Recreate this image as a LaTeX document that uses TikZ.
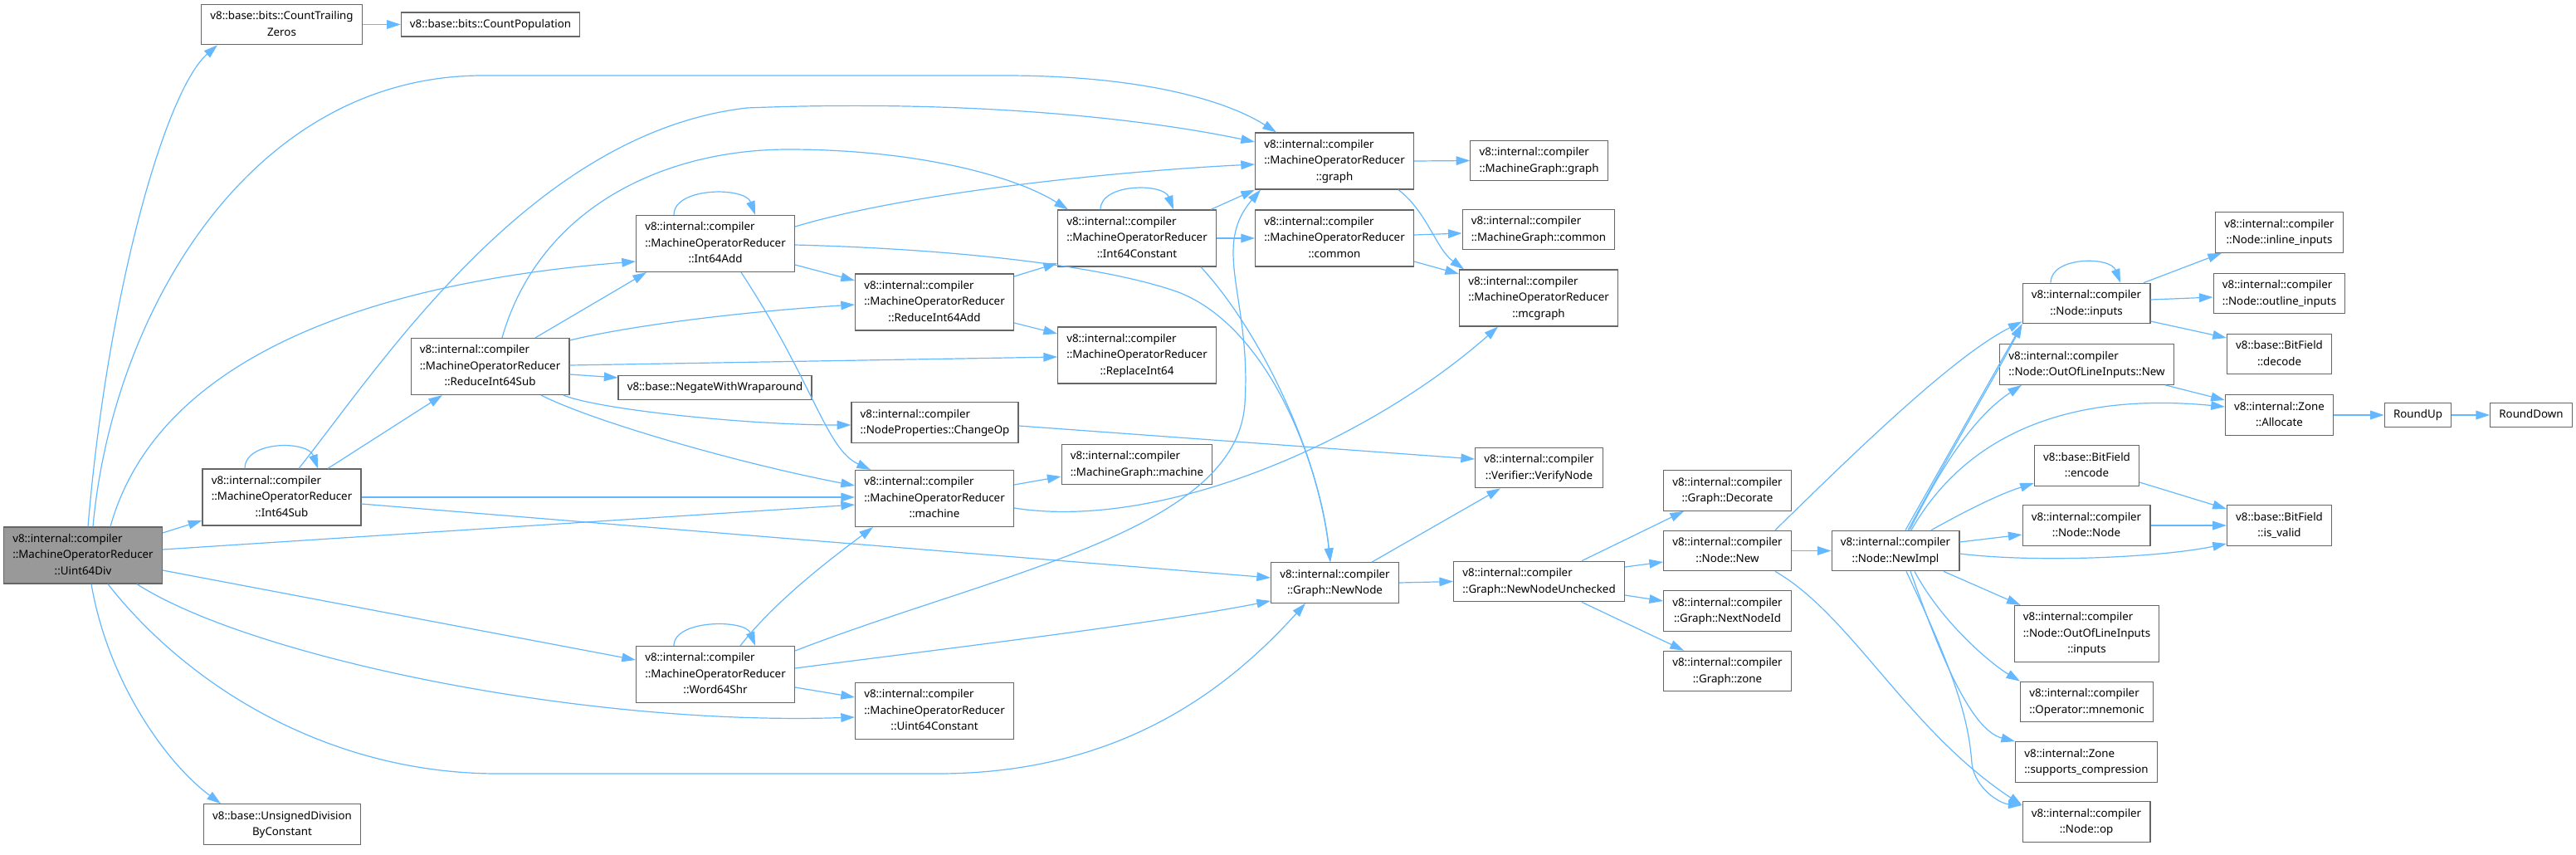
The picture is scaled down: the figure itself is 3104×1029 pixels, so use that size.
\documentclass[tikz,border=0pt]{standalone}
\usepackage{fontspec}
\setmainfont{Noto Sans}
\usetikzlibrary{arrows.meta,calc}
\definecolor{callblue}{HTML}{63B8FF}
\definecolor{boxgray}{HTML}{666666}
\definecolor{rootgray}{HTML}{999999}
\newcommand{\fnlabel}[2]{\begin{tabular}{@{}c@{}}\multicolumn{1}{@{}l@{}}{#1}#2\end{tabular}}

\begin{document}
\begin{tikzpicture}[x=0.75pt, y=0.75pt,
	fn/.style={draw=boxgray, line width=0.9pt, fill=white, inner xsep=8pt, inner ysep=3.6pt, font=\fontsize{10}{14.6}\selectfont},
	root/.style={fill=rootgray},
	call/.style={draw=callblue, line width=0.9pt, -{Triangle[length=12.5pt,width=8pt]}}]
	\useasboundingbox (0,0) rectangle (3104,-1029);
	\node[fn, root] (div) at (100,-669) {\fnlabel{v8::internal::compiler}{\\::MachineOperatorReducer\\::Uint64Div}};
	\node[fn] (ctz) at (339.5,-29.5) {\fnlabel{v8::base::bits::CountTrailing}{\\Zeros}};
	\node[fn] (popcnt) at (591,-29.5) {\fnlabel{v8::base::bits::CountPopulation}{}};
	\node[fn] (sub) at (339.5,-599) {\fnlabel{v8::internal::compiler}{\\::MachineOperatorReducer\\::Int64Sub}};
	\node[fn] (udiv) at (340,-993) {\fnlabel{v8::base::UnsignedDivision}{\\ByConstant}};
	\node[fn] (rsub) at (590.5,-441.5) {\fnlabel{v8::internal::compiler}{\\::MachineOperatorReducer\\::ReduceInt64Sub}};
	\node[fn] (add) at (862,-293.5) {\fnlabel{v8::internal::compiler}{\\::MachineOperatorReducer\\::Int64Add}};
	\node[fn] (shr) at (862,-812.5) {\fnlabel{v8::internal::compiler}{\\::MachineOperatorReducer\\::Word64Shr}};
	\node[fn] (negwrap) at (861.5,-467) {\fnlabel{v8::base::NegateWithWraparound}{}};
	\node[fn] (radd) at (1126,-364) {\fnlabel{v8::internal::compiler}{\\::MachineOperatorReducer\\::ReduceInt64Add}};
	\node[fn] (changeop) at (1126.5,-509) {\fnlabel{v8::internal::compiler}{\\::NodeProperties::ChangeOp}};
	\node[fn] (mach) at (1126,-600.5) {\fnlabel{v8::internal::compiler}{\\::MachineOperatorReducer\\::machine}};
	\node[fn] (u64const) at (1126,-856.5) {\fnlabel{v8::internal::compiler}{\\::MachineOperatorReducer\\::Uint64Constant}};
	\node[fn] (i64const) at (1370,-287) {\fnlabel{v8::internal::compiler}{\\::MachineOperatorReducer\\::Int64Constant}};
	\node[fn] (repl) at (1370,-428) {\fnlabel{v8::internal::compiler}{\\::MachineOperatorReducer\\::ReplaceInt64}};
	\node[fn] (mgmach) at (1370,-559.5) {\fnlabel{v8::internal::compiler}{\\::MachineGraph::machine}};
	\node[fn] (graph) at (1608,-194) {\fnlabel{v8::internal::compiler}{\\::MachineOperatorReducer\\::graph}};
	\node[fn] (common) at (1608,-287) {\fnlabel{v8::internal::compiler}{\\::MachineOperatorReducer\\::common}};
	\node[fn] (newnode) at (1608.5,-702) {\fnlabel{v8::internal::compiler}{\\::Graph::NewNode}};
	\node[fn] (mggraph) at (1854.5,-193.5) {\fnlabel{v8::internal::compiler}{\\::MachineGraph::graph}};
	\node[fn] (mgcommon) at (1854,-276.5) {\fnlabel{v8::internal::compiler}{\\::MachineGraph::common}};
	\node[fn] (mcgraph) at (1854,-359) {\fnlabel{v8::internal::compiler}{\\::MachineOperatorReducer\\::mcgraph}};
	\node[fn] (verify) at (1854.5,-563.5) {\fnlabel{v8::internal::compiler}{\\::Verifier::VerifyNode}};
	\node[fn] (unchecked) at (1854.5,-700.5) {\fnlabel{v8::internal::compiler}{\\::Graph::NewNodeUnchecked}};
	\node[fn] (decorate) at (2081.5,-591) {\fnlabel{v8::internal::compiler}{\\::Graph::Decorate}};
	\node[fn] (nodenew) at (2081.5,-663.5) {\fnlabel{v8::internal::compiler}{\\::Node::New}};
	\node[fn] (nextid) at (2081.5,-736) {\fnlabel{v8::internal::compiler}{\\::Graph::NextNodeId}};
	\node[fn] (gzone) at (2081.5,-808.5) {\fnlabel{v8::internal::compiler}{\\::Graph::zone}};
	\node[fn] (newimpl) at (2284,-663.5) {\fnlabel{v8::internal::compiler}{\\::Node::NewImpl}};
	\node[fn] (inputs) at (2514,-365.5) {\fnlabel{v8::internal::compiler}{\\::Node::inputs}};
	\node[fn] (oolnew) at (2514.5,-439) {\fnlabel{v8::internal::compiler}{\\::Node::OutOfLineInputs::New}};
	\node[fn] (encode) at (2514.5,-561) {\fnlabel{v8::base::BitField}{\\::encode}};
	\node[fn] (nodenode) at (2514,-633) {\fnlabel{v8::internal::compiler}{\\::Node::Node}};
	\node[fn] (oolinputs) at (2514.5,-763.5) {\fnlabel{v8::internal::compiler}{\\::Node::OutOfLineInputs\\::inputs}};
	\node[fn] (mnemonic) at (2514.5,-845.5) {\fnlabel{v8::internal::compiler}{\\::Operator::mnemonic}};
	\node[fn] (suppcomp) at (2514,-918) {\fnlabel{v8::internal::Zone}{\\::supports\_compression}};
	\node[fn] (nodeop) at (2514,-990) {\fnlabel{v8::internal::compiler}{\\::Node::op}};
	\node[fn] (inlinein) at (2746.5,-280) {\fnlabel{v8::internal::compiler}{\\::Node::inline\_inputs}};
	\node[fn] (outlinein) at (2746.5,-353.5) {\fnlabel{v8::internal::compiler}{\\::Node::outline\_inputs}};
	\node[fn] (decode) at (2746.5,-426.5) {\fnlabel{v8::base::BitField}{\\::decode}};
	\node[fn] (alloc) at (2746.5,-500) {\fnlabel{v8::internal::Zone}{\\::Allocate}};
	\node[fn] (isvalid) at (2746.5,-633) {\fnlabel{v8::base::BitField}{\\::is\_valid}};
	\node[fn] (roundup) at (2913.5,-500) {\fnlabel{RoundUp}{}};
	\node[fn] (rounddown) at (3050,-500) {\fnlabel{RoundDown}{}};
	% Uint64Div
	\draw[call] ($(div.north)+(6,0)$) .. controls +(24,285) and +(-62,-54) .. ($(ctz.south)+(-77.5,0)$);
	\draw[call] ($(div.north)+(12,0)$) .. controls +(23,255) and +(-282,0) .. (582,-91) -- (1211,-91) .. controls +(169,0) and +(-58,37) .. ($(graph.north)+(-70,0)$);
	\draw[call] ($(div.north)+(33,0)$) .. controls +(57,205) and +(-317,-25) .. ($(add.west)+(0,-21.5)$);
	\draw[call] ($(div.east)+(0,27)$) -- ($(sub.west)+(0,-28)$);
	\draw[call] ($(div.east)+(0,7)$) -- ($(mach.west)+(0,-7.5)$);
	\draw[call] ($(div.east)+(0,-18)$) -- ($(shr.west)+(0,17.5)$);
	\draw[call] ($(div.south)+(65,0)$) .. controls +(135,-87) and +(-331,-11) .. ($(u64const.west)+(0,-7.5)$);
	\draw[call] ($(div.south)+(30,0)$) .. controls +(100,-127) and +(-200,0) .. (600,-932) -- (1130,-932) .. controls +(220,0) and +(-93,-103) .. ($(newnode.south)+(-35.5,0)$);
	\draw[call] ($(div.south)+(10,0)$) .. controls +(20,-117) and +(-66,49) .. ($(udiv.north)+(-74,0)$);
	\draw[call] (ctz.east) -- (popcnt.west);
	% Int64Sub, ReduceInt64Sub
	\draw[call] ($(sub.north)+(-44.5,0)$) .. controls +(0,34) and +(-12,34) .. ($(sub.north)+(43.5,0)$);
	\draw[call] ($(sub.north)+(20.5,0)$) .. controls +(100,126) and +(-260,-30) .. (900,-130) .. controls +(250,10) and +(-148,31) .. ($(graph.west)+(0,23)$);
	\draw[call] ($(sub.north)+(55.5,0)$) -- ($(rsub.south)+(-57.5,0)$);
	\draw[call] (sub.east) -- ($(mach.west)+(0,1.5)$);
	\draw[call] ($(sub.east)+(0,-8)$) -- ($(newnode.west)+(0,6)$);
	\draw[call] ($(rsub.north)+(54.5,0)$) -- ($(add.south)+(-83,0)$);
	\draw[call] ($(rsub.north)+(14.5,0)$) .. controls +(45,157) and +(-150,0) .. (950,-180) .. controls +(150,0) and +(-67,42) .. ($(i64const.north)+(-83,0)$);
	\draw[call] ($(rsub.east)+(0,31.5)$) .. controls +(73,18) and +(-131,-8) .. ($(radd.west)+(0,-3)$);
	\draw[call] ($(rsub.east)+(0,1.5)$) -- ($(repl.west)+(0,-2)$);
	\draw[call] ($(rsub.east)+(0,-9.5)$) -- ($(negwrap.west)+(0,12)$);
	\draw[call] ($(rsub.south)+(88.5,0)$) .. controls +(41,-17) and +(-126,0) .. ($(changeop.west)+(0,-3)$);
	\draw[call] ($(rsub.south)+(61.5,0)$) .. controls +(68,-34) and +(-131,25) .. ($(mach.west)+(0,15.5)$);
	% Int64Add, ReduceInt64Add, Int64Constant
	\draw[call] ($(add.north)+(-50,0)$) .. controls +(0,34) and +(-12,34) .. ($(add.north)+(48,0)$);
	\draw[call] ($(add.east)+(0,20.5)$) .. controls +(143,43) and +(-148,-7) .. ($(graph.west)+(0,-4)$);
	\draw[call] ($(add.east)+(0,-1.5)$) .. controls +(193,-5) and +(-90,32) .. (1420,-352) .. controls +(110,-43) and +(-13,117) .. ($(newnode.north)+(-5.5,0)$);
	\draw[call] ($(add.south)+(31,0)$) .. controls +(87,-132) and +(-54,25) .. ($(mach.north)+(-77,0)$);
	\draw[call] ($(add.east)+(0,-25.5)$) -- ($(radd.west)+(0,26)$);
	\draw[call] ($(radd.east)+(0,31)$) -- ($(i64const.west)+(0,-30)$);
	\draw[call] ($(radd.east)+(0,-25)$) -- ($(repl.west)+(0,26)$);
	\draw[call] ($(i64const.north)+(-44,0)$) .. controls +(0,32) and +(-12,32) .. ($(i64const.north)+(44,0)$);
	\draw[call] ($(i64const.north)+(89,0)$) -- (graph.south west);
	\draw[call] (i64const.east) -- (common.west);
	\draw[call] ($(i64const.south)+(77,0)$) .. controls +(73,-79) and +(-13,127) .. ($(newnode.north)+(-5.5,0)$);
	% Word64Shr, machine
	\draw[call] ($(shr.north)+(-50,0)$) .. controls +(0,32) and +(-12,32) .. ($(shr.north)+(48,0)$);
	\draw[call] ($(shr.north)+(30,0)$) .. controls +(38,49) and +(-62,-46) .. ($(mach.south)+(-74,0)$);
	\draw[call] ($(shr.east)+(0,28.5)$) .. controls +(243,94) and +(-10,-154) .. (1500,-486) .. controls +(8,126) and +(-60,-70) .. ($(graph.south west)+(7,0)$);
	\draw[call] ($(shr.east)+(0,7.5)$) .. controls +(193,25) and +(-131,-26) .. ($(newnode.south west)+(0,3)$);
	\draw[call] ($(shr.east)+(0,-15.5)$) -- ($(u64const.west)+(0,16.5)$);
	\draw[call] ($(changeop.east)+(0,-4)$) -- ($(verify.west)+(0,10.5)$);
	\draw[call] ($(mach.east)+(0,16.5)$) -- ($(mgmach.west)+(0,-14.5)$);
	\draw[call] ($(mach.east)+(0,-11.5)$) .. controls +(179,-28) and +(-155,-137) .. ($(mcgraph.south)+(-49,0)$);
	% graph, common, NewNode
	\draw[call] (graph.east) -- (mggraph.west);
	\draw[call] ($(graph.south)+(77,0)$) .. controls +(35,-27) and +(-34,25) .. ($(mcgraph.north west)+(6,0)$);
	\draw[call] ($(common.east)+(0,4)$) -- ($(mgcommon.west)+(0,-4.5)$);
	\draw[call] ($(common.east)+(0,-28)$) -- ($(mcgraph.west)+(0,29)$);
	\draw[call] ($(newnode.north)+(44.5,0)$) -- ($(verify.south)+(-46.5,0)$);
	\draw[call] (newnode.east) -- (unchecked.west);
	\draw[call] ($(unchecked.north)+(51.5,0)$) -- ($(decorate.south)+(-52.5,0)$);
	\draw[call] ($(unchecked.east)+(0,17.5)$) -- ($(nodenew.west)+(0,-13.5)$);
	\draw[call] ($(unchecked.east)+(0,-16.5)$) -- ($(nextid.west)+(0,12)$);
	\draw[call] ($(unchecked.south)+(51.5,0)$) -- ($(gzone.north)+(-52.5,0)$);
	% Node::New, Node::NewImpl
	\draw[call] (nodenew.east) -- (newimpl.west);
	\draw[call] ($(nodenew.north)+(57.5,0)$) .. controls +(81,79) and +(-86,-43) .. ($(inputs.south west)+(0,3)$);
	\draw[call] ($(nodenew.south)+(57.5,0)$) .. controls +(91,-52) and +(-137,90) .. ($(nodeop.west)+(0,20)$);
	\draw[call] ($(newimpl.north)+(12,0)$) -- (inputs.south west);
	\draw[call] ($(newimpl.north)+(15,0)$) .. controls +(60,110) and +(-25,-50) .. (inputs.south west);
	\draw[call] ($(newimpl.north)+(17,0)$) .. controls +(40,80) and +(-56,-37) .. ($(oolnew.south)+(-78.5,0)$);
	\draw[call] ($(newimpl.north)+(19,0)$) .. controls +(57,100) and +(-210,20) .. ($(alloc.west)+(0,10)$);
	\draw[call] ($(newimpl.north)+(43,0)$) .. controls +(43,24) and +(-41,-13) .. ($(encode.west)+(0,-21)$);
	\draw[call] ($(newimpl.east)+(0,10.5)$) -- ($(nodenode.west)+(0,-11)$);
	\draw[call] ($(newimpl.east)+(0,-3.5)$) .. controls +(89,-11) and +(-83,-17) .. ($(isvalid.west)+(0,-22)$);
	\draw[call] ($(newimpl.south)+(58,0)$) -- ($(oolinputs.north west)+(8,0)$);
	\draw[call] ($(newimpl.south)+(23,0)$) .. controls +(33,-62) and +(-35,21) .. (mnemonic.north west);
	\draw[call] ($(newimpl.south)+(18,0)$) .. controls +(33,-92) and +(-55,14) .. (suppcomp.north west);
	\draw[call] ($(newimpl.south)+(13,0)$) .. controls +(53,-112) and +(-4,60) .. (2376,-920) .. controls +(4,-30) and +(-27,2) .. ($(nodeop.west)+(0,20)$);
	% BitField, inputs, Zone
	\draw[call] ($(encode.east)+(0,-20)$) -- ($(isvalid.west)+(0,20)$);
	\draw[call] (nodenode.east) -- (isvalid.west);
	\draw[call] ($(inputs.north)+(-43,0)$) .. controls +(0,32) and +(-12,32) .. ($(inputs.north)+(41,0)$);
	\draw[call] ($(inputs.north)+(69,0)$) -- ($(inlinein.south)+(-69.5,0)$);
	\draw[call] ($(inputs.east)+(0,4.5)$) -- ($(outlinein.west)+(0,-4.5)$);
	\draw[call] ($(inputs.east)+(0,-21.5)$) -- ($(decode.west)+(0,19.5)$);
	\draw[call] ($(oolnew.south)+(94.5,0)$) -- ($(alloc.west)+(0,18)$);
	\draw[call] (alloc.east) -- (roundup.west);
	\draw[call] (roundup.east) -- (rounddown.west);
\end{tikzpicture}
\end{document}
